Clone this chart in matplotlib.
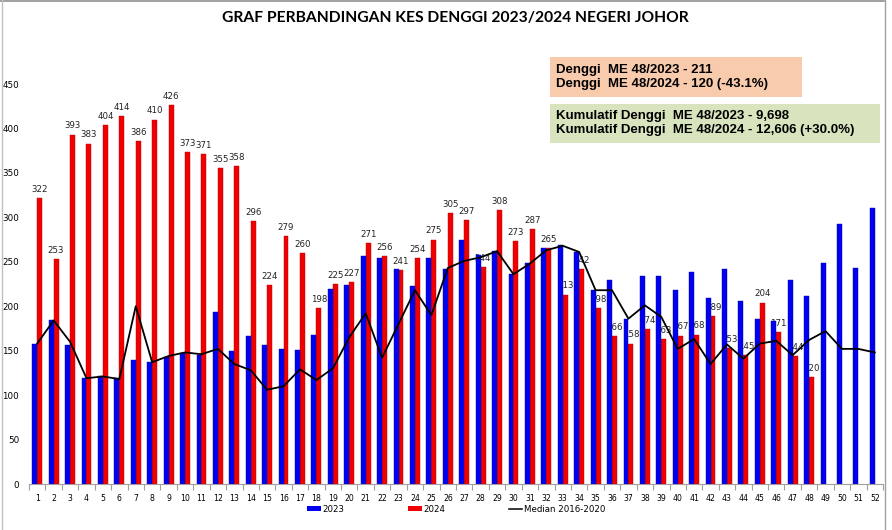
import matplotlib
matplotlib.use("Agg")
import matplotlib.pyplot as plt
from matplotlib.lines import Line2D
from matplotlib.patches import Patch, Rectangle
from matplotlib.ticker import FixedLocator, NullFormatter

weeks = list(range(1, 53))
cases_2023 = [158, 185, 156, 119, 121, 119, 140, 137, 143, 147, 145, 194, 150,
              166, 156, 152, 151, 168, 219, 224, 256, 254, 242, 223, 254, 242,
              274, 258, 262, 236, 249, 266, 269, 261, 218, 229, 186, 234, 234,
              218, 239, 209, 242, 206, 186, 183, 230, 211, 249, 292, 243, 310]
cases_2024 = [322, 253, 393, 383, 404, 414, 386, 410, 426, 373, 371, 355, 358,
              296, 224, 279, 260, 198, 225, 227, 271, 256, 241, 254, 275, 305,
              297, 244, 308, 273, 287, 265, 213, 242, 198, 166, 158, 174, 163,
              167, 168, 189, 153, 145, 204, 171, 144, 120]
median_2016_2020 = [158, 184, 160, 119, 121, 118, 200, 137, 144, 148, 146, 152,
                    135, 128, 106, 110, 129, 117, 130, 165, 192, 142, 180, 218,
                    190, 243, 251, 255, 262, 236, 248, 263, 268, 261, 218, 218,
                    186, 201, 188, 152, 163, 135, 157, 141, 158, 161, 145, 162,
                    172, 152, 152, 148]
y_ticks = [0, 50, 100, 150, 200, 250, 300, 350, 400, 450]

title = "GRAF PERBANDINGAN KES DENGGI 2023/2024 NEGERI JOHOR"
box1_lines = ["Denggi  ME 48/2023 - 211", "Denggi  ME 48/2024 - 120 (-43.1%)"]
box2_lines = ["Kumulatif Denggi  ME 48/2023 - 9,698",
              "Kumulatif Denggi  ME 48/2024 - 12,606 (+30.0%)"]
legend_labels = ["2023", "2024", "Median 2016-2020"]

W, H = 892, 530
fig = plt.figure(figsize=(W / 100, H / 100), dpi=100)
fig.patch.set_facecolor("white")

def fx(px):
    return px / W

def fy(py):
    return 1 - py / H

ax = fig.add_axes([fx(29), fy(484), fx(883) - fx(29), fy(84) - fy(484)])
ax.set_facecolor("white")

blue = "#0000f0"
red = "#f00000"
bw = 0.3
x24 = weeks[:len(cases_2024)]
ax.bar([w - bw / 2 for w in weeks], cases_2023, width=bw, color=blue,
       edgecolor="#0000a8", linewidth=0.3, zorder=2)
ax.bar([w + bw / 2 for w in x24], cases_2024, width=bw, color=red,
       edgecolor="#b00000", linewidth=0.3, zorder=1.8)
ax.plot(weeks, median_2016_2020, color="black", linewidth=1.3, zorder=3)

for w, v in zip(x24, cases_2024):
    ax.annotate(str(v), (w + bw / 2, v), xytext=(0, 6.3), textcoords="offset points",
                ha="center", va="center", fontsize=6.2, family="DejaVu Sans",
                color="#222222", zorder=1.9)

ax.set_xlim(0.5, 52.5)
ax.set_ylim(0, 450)
ax.set_yticks(y_ticks)
ax.set_xticks(weeks)
ax.xaxis.set_minor_locator(FixedLocator([w + 0.5 for w in range(0, 53)]))
ax.xaxis.set_minor_formatter(NullFormatter())
ax.tick_params(axis="x", which="major", length=0, labelsize=5.6, pad=7)
ax.tick_params(axis="x", which="minor", length=4, color="#a0a0a0", width=0.8,
               direction="out")
ax.tick_params(axis="y", length=0, labelsize=6.3, pad=7)
for lab in ax.get_xticklabels() + ax.get_yticklabels():
    lab.set_family("DejaVu Sans")
for s in ["top", "right", "left"]:
    ax.spines[s].set_visible(False)
ax.spines["bottom"].set_color("#a0a0a0")
ax.spines["bottom"].set_linewidth(0.8)

# Title, fitted to the reference width
t = fig.text(fx(455), fy(18), title, ha="center", va="center", fontsize=12,
             family="Lato", fontweight="bold", color="black")
renderer = fig.canvas.get_renderer()
wpx = t.get_window_extent(renderer).width
t.set_fontsize(12 * 466 / wpx)

# Info boxes
fig.patches.append(Rectangle((fx(550), fy(97)), fx(802) - fx(550), fy(57) - fy(97),
                             transform=fig.transFigure, facecolor="#f9cbad",
                             edgecolor="none", zorder=5))
fig.patches.append(Rectangle((fx(550), fy(143)), fx(880) - fx(550), fy(104) - fy(143),
                             transform=fig.transFigure, facecolor="#d7e4bd",
                             edgecolor="none", zorder=5))
for line, py in zip(box1_lines, [69.5, 83.5]):
    fig.text(fx(556), fy(py), line, ha="left", va="center", fontsize=9.5,
             fontweight="bold", family="Liberation Sans", zorder=6)
for line, py in zip(box2_lines, [116, 130]):
    fig.text(fx(556), fy(py), line, ha="left", va="center", fontsize=9.5,
             fontweight="bold", family="Liberation Sans", zorder=6)

# Legend
handles = [Patch(facecolor=blue, edgecolor="none"),
           Patch(facecolor=red, edgecolor="none"),
           Line2D([0], [0], color="black", linewidth=1.1)]
leg = fig.legend(handles, legend_labels, loc="center left",
                 bbox_to_anchor=(fx(307), fy(509)), ncol=3, frameon=False,
                 prop={"family": "DejaVu Sans", "size": 6.2},
                 handlelength=1.6, handleheight=0.6, handletextpad=0.15,
                 columnspacing=7.4, borderaxespad=0, borderpad=0)

# Frame lines of the original picture
fig.add_artist(Line2D([fx(0), fx(884)], [fy(0.5), fy(0.5)], transform=fig.transFigure,
                      color="#909090", linewidth=1.2))
fig.add_artist(Line2D([fx(1.5), fx(1.5)], [fy(0), fy(530)], transform=fig.transFigure,
                      color="#c0c0c0", linewidth=1.0))
fig.add_artist(Line2D([fx(884.5), fx(884.5)], [fy(0), fy(530)], transform=fig.transFigure,
                      color="#a0a0a0", linewidth=1.0))

fig.savefig("out.png", dpi=100)
